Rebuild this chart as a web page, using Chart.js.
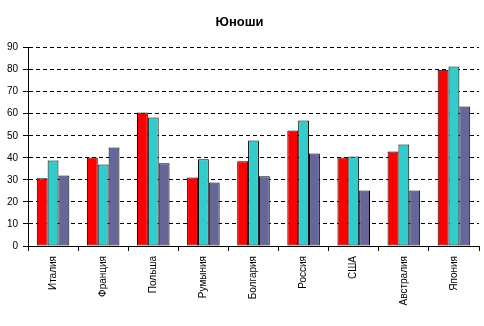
<!DOCTYPE html>
<html>
<head>
<meta charset="utf-8">
<script src="https://cdn.jsdelivr.net/npm/chart.js@4"></script>
<style>
  html, body { margin: 0; padding: 0; background: #ffffff; }
  #wrap { width: 484px; height: 326px; }
</style>
</head>
<body>
<div id="wrap"><canvas id="c" width="484" height="326"></canvas></div>
<script>
const chartTitle = 'Юноши';
const categories = ['Италия', 'Франция', 'Польша', 'Румыния', 'Болгария', 'Россия', 'США', 'Австралия', 'Япония'];
const series1 = [30.7, 40.2, 60.6, 31.1, 38.4, 52.4, 40.2, 42.9, 80.0];
const series2 = [38.8, 37.0, 58.3, 39.3, 47.9, 56.9, 40.6, 46.1, 81.4];
const series3 = [32.0, 44.7, 37.5, 28.8, 31.6, 42.0, 25.2, 25.2, 63.3];
const seriesNames = ['Ряд 1', 'Ряд 2', 'Ряд 3'];
const yTicks = [0, 10, 20, 30, 40, 50, 60, 70, 80, 90];

const FONT = 'Arial, "Liberation Sans", sans-serif';

new Chart(document.getElementById('c'), {
  type: 'bar',
  data: {
    labels: categories,
    datasets: [
      { label: seriesNames[0], data: series1, backgroundColor: '#FF0000' },
      { label: seriesNames[1], data: series2, backgroundColor: '#33CCCC' },
      { label: seriesNames[2], data: series3, backgroundColor: '#666699' }
    ]
  },
  options: {
    responsive: false,
    animation: false,
    devicePixelRatio: 1,
    layout: { padding: { left: 0, right: 5, top: 0, bottom: 0 } },
    datasets: {
      bar: {
        borderColor: '#000000',
        borderWidth: 1,
        borderSkipped: false,
        barPercentage: 1.0,
        categoryPercentage: 0.65
      }
    },
    plugins: {
      legend: { display: false },
      tooltip: { enabled: false },
      title: {
        display: true,
        text: chartTitle,
        color: '#000000',
        font: { family: FONT, size: 13, weight: 'bold' },
        padding: { top: 15, bottom: 17 }
      }
    },
    scales: {
      x: {
        offset: true,
        grid: {
          display: true,
          offset: true,
          drawOnChartArea: false,
          drawTicks: true,
          tickLength: 5,
          tickColor: '#000000',
          tickWidth: 1
        },
        border: { display: true, color: '#000000', width: 1 },
        ticks: {
          color: '#000000',
          font: { family: FONT, size: 10 },
          minRotation: 90,
          maxRotation: 90,
          autoSkip: false,
          padding: 5
        },
        afterFit: (s) => { s.height = 80; }
      },
      y: {
        min: 0,
        max: 90,
        afterBuildTicks: (s) => { s.ticks = yTicks.map(v => ({ value: v })); },
        grid: {
          display: true,
          color: '#000000',
          lineWidth: 1,
          drawTicks: true,
          tickLength: 5,
          tickColor: '#000000',
          tickBorderDash: []
        },
        border: { display: true, color: '#000000', width: 1, dash: [4, 3] },
        ticks: {
          color: '#000000',
          font: { family: FONT, size: 10 },
          padding: 5
        },
        afterFit: (s) => { s.width = 28; }
      }
    }
  }
});
</script>
</body>
</html>
